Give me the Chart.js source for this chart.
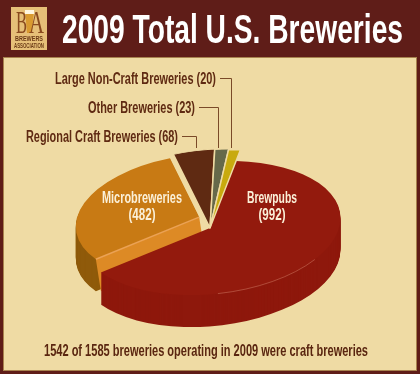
<!DOCTYPE html>
<html>
<head>
<meta charset="utf-8">
<script src="https://cdn.jsdelivr.net/npm/chart.js@4"></script>
<style>
  html, body { margin: 0; padding: 0; background: #fff; }
  #wrap { position: relative; width: 420px; height: 374px; }
</style>
</head>
<body>
<div id="wrap"><canvas id="beerPie" width="420" height="374"></canvas></div>
<script>
const chartTitle = "2009 Total U.S. Breweries";
const footnote = "1542 of 1585 breweries operating in 2009 were craft breweries";
const categories = ["Brewpubs", "Microbreweries", "Regional Craft Breweries", "Other Breweries", "Large Non-Craft Breweries"];
const breweryCounts = [992, 482, 68, 23, 20];
const topColors = ["#931a0d", "#c87a14", "#5f2a12", "#66694a", "#c8aa0e"];
const sideColors = ["#8e180c", "#8f5a0a", null, null, null];
const gapWidths = [0, 0, 1.5, 1.5, 1.5];

const FONT = '"Liberation Sans", sans-serif';
const CREAM = '#efdba4';
// pie tilt
const PIE_X = 210, PIE_Y = 228, SQUASH = 0.52, SKEW = -0.15, DEPTH = 32;
// exploded look: how far each slice sits from the centre, and its radius
const shiftX = [0, -14, 0, 0, 0];
const shiftY = [0, -21, 0, 0, 0];
const radii = [129, 122, 153, 152, 150];

// draws text squeezed to a given width, the narrow font isn't installed
function text(ctx, str, x, y, width, size, color, align, fontName) {
  ctx.save();
  ctx.font = (fontName ? size + 'px ' + fontName : 'bold ' + size + 'px ' + FONT);
  ctx.fillStyle = color;
  ctx.textAlign = 'left';
  ctx.textBaseline = 'alphabetic';
  const k = width / ctx.measureText(str).width;
  let left = x;
  if (align === 'center') left = x - width / 2;
  if (align === 'right') left = x - width;
  ctx.translate(left, y);
  ctx.scale(k, 1);
  ctx.fillText(str, 0, 0);
  ctx.restore();
}

function tilt(ctx, chart, dy) {
  const cx = (chart.chartArea.left + chart.chartArea.right) / 2;
  const cy = (chart.chartArea.top + chart.chartArea.bottom) / 2;
  ctx.transform(1, 0, SKEW, SQUASH, PIE_X - cx - SKEW * cy, PIE_Y + dy - SQUASH * cy);
}

function slicePath(ctx, arc) {
  ctx.beginPath();
  ctx.moveTo(arc.x, arc.y);
  ctx.arc(arc.x, arc.y, arc.outerRadius, arc.startAngle, arc.endAngle);
  ctx.closePath();
}

// screen position of a point given in the pie's own plane
function project(chart, px, py, dy) {
  const cx = (chart.chartArea.left + chart.chartArea.right) / 2;
  const cy = (chart.chartArea.top + chart.chartArea.bottom) / 2;
  const rx = px - cx, ry = py - cy;
  return { x: PIE_X + rx + SKEW * ry, y: PIE_Y + dy + SQUASH * ry };
}

const frame = {
  id: 'frame',
  afterDatasetsUpdate(chart) {
    chart.getDatasetMeta(0).data.forEach(function (arc, i) {
      const cx = (chart.chartArea.left + chart.chartArea.right) / 2;
      const cy = (chart.chartArea.top + chart.chartArea.bottom) / 2;
      arc.x = cx + shiftX[i];
      arc.y = cy + shiftY[i];
      arc.outerRadius = radii[i];
    });
  },
  beforeDraw(chart) {
    const ctx = chart.ctx;
    ctx.fillStyle = '#5f1d18';
    ctx.fillRect(0, 0, 420, 374);
    ctx.fillStyle = '#a8824e';
    ctx.fillRect(3, 57, 414, 314);
    ctx.fillStyle = CREAM;
    ctx.fillRect(4, 58, 412, 312);

    // logo
    ctx.fillStyle = '#e6bf78';
    ctx.fillRect(11, 7, 36, 43);
    ctx.fillStyle = '#d99a30';
    ctx.beginPath();
    ctx.moveTo(25, 10);
    ctx.lineTo(34, 10);
    ctx.lineTo(32, 33);
    ctx.lineTo(27, 33);
    ctx.closePath();
    ctx.fill();
    ctx.fillStyle = '#fff6e0';
    ctx.fillRect(25, 10, 9, 4);
    text(ctx, 'B', 16, 33, 11, 32, '#8a4a1e', 'left', '"Liberation Serif", serif');
    text(ctx, 'A', 29, 33, 15, 32, '#8a4a1e', 'left', '"Liberation Serif", serif');
    text(ctx, 'BREWERS', 29, 41, 28, 7, '#6b3a16', 'center');
    text(ctx, 'ASSOCIATION', 29, 47.5, 30, 6.5, '#6b3a16', 'center');

    text(ctx, chartTitle, 62, 43, 341, 41, '#ffffff', 'left');
    text(ctx, footnote, 206, 356, 324, 16, '#5a2610', 'center');
  },
  beforeDatasetsDraw(chart) {
    const ctx = chart.ctx;
    const meta = chart.getDatasetMeta(0);
    const micro = meta.data[1];

    // extruded orange rim
    for (let d = DEPTH; d > 0; d--) {
      ctx.save();
      tilt(ctx, chart, d);
      slicePath(ctx, micro);
      ctx.fillStyle = sideColors[1];
      ctx.fill();
      ctx.restore();
    }
    // lit cut face of the orange slice
    const ex = micro.x + Math.cos(micro.startAngle) * micro.outerRadius;
    const ey = micro.y + Math.sin(micro.startAngle) * micro.outerRadius;
    const p1 = project(chart, micro.x, micro.y, 0);
    const p2 = project(chart, ex, ey, 0);
    ctx.fillStyle = '#dd8a25';
    ctx.beginPath();
    ctx.moveTo(p1.x, p1.y);
    ctx.lineTo(p2.x, p2.y);
    ctx.lineTo(p2.x + 5, p2.y + DEPTH);
    ctx.lineTo(p1.x + 5, p1.y + DEPTH);
    ctx.closePath();
    ctx.fill();

    // extruded red rim
    const pubs = meta.data[0];
    for (let d = DEPTH; d > 0; d--) {
      ctx.save();
      tilt(ctx, chart, d);
      slicePath(ctx, pubs);
      ctx.fillStyle = sideColors[0];
      ctx.fill();
      ctx.restore();
    }
    ctx.save();
    tilt(ctx, chart, 0);
  },
  afterDatasetsDraw(chart) {
    const ctx = chart.ctx;
    ctx.restore();
    const meta = chart.getDatasetMeta(0);

    // highlight along the orange edge
    const micro = meta.data[1];
    const ex = micro.x + Math.cos(micro.startAngle) * micro.outerRadius;
    const ey = micro.y + Math.sin(micro.startAngle) * micro.outerRadius;
    const a = project(chart, micro.x, micro.y, 0);
    const b = project(chart, ex, ey, 0);
    ctx.strokeStyle = '#eba255';
    ctx.lineWidth = 1.5;
    ctx.beginPath();
    ctx.moveTo(a.x, a.y);
    ctx.lineTo(b.x, b.y);
    ctx.stroke();

    // soft highlight on the front of the red rim
    const pubs = meta.data[0];
    ctx.save();
    tilt(ctx, chart, 0);
    ctx.beginPath();
    ctx.arc(pubs.x, pubs.y, pubs.outerRadius, 28 * Math.PI / 180, 78 * Math.PI / 180);
    ctx.restore();
    ctx.strokeStyle = 'rgba(225,150,125,0.4)';
    ctx.lineWidth = 1;
    ctx.stroke();

    // slice names inside the two large slices
    text(ctx, categories[1], 142, 203, 80, 16, '#fbf0d8', 'center');
    text(ctx, '(' + breweryCounts[1] + ')', 142, 220, 27, 16, '#fbf0d8', 'center');
    text(ctx, categories[0], 272, 203, 50, 16, '#fbf0d8', 'center');
    text(ctx, '(' + breweryCounts[0] + ')', 272, 220, 27, 16, '#fbf0d8', 'center');

    // callouts for the small slices: slice, text end, baseline, text width, line x
    const callouts = [[2, 178, 142, 152, 196], [3, 195, 113, 107, 218], [4, 216, 84, 161, 231]];
    callouts.forEach(function (c) {
      const i = c[0];
      text(ctx, categories[i] + ' (' + breweryCounts[i] + ')', c[1], c[2], c[3], 16, '#5f2a12', 'right');
      ctx.strokeStyle = '#7a4a28';
      ctx.lineWidth = 1;
      ctx.beginPath();
      ctx.moveTo(c[1] + 4, c[2] - 5.5);
      ctx.lineTo(c[4] + 0.5, c[2] - 5.5);
      ctx.lineTo(c[4] + 0.5, 148);
      ctx.stroke();
    });
  }
};

new Chart(document.getElementById('beerPie'), {
  type: 'pie',
  data: {
    labels: categories,
    datasets: [{
      data: breweryCounts,
      backgroundColor: topColors,
      borderColor: CREAM,
      borderWidth: gapWidths,
      borderJoinStyle: 'round',
      clip: false
    }]
  },
  options: {
    responsive: false,
    animation: false,
    rotation: 3,
    radius: 129,
    events: [],
    plugins: { legend: { display: false }, tooltip: { enabled: false } }
  },
  plugins: [frame]
});
</script>
</body>
</html>
